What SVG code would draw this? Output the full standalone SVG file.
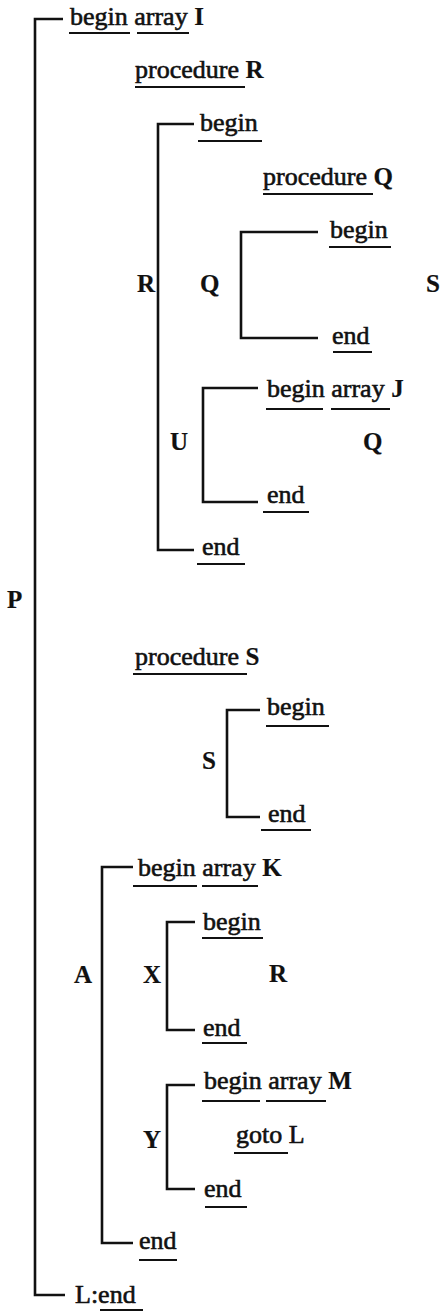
<svg xmlns="http://www.w3.org/2000/svg" width="441" height="1312" viewBox="0 0 441 1312">
<style>
text{font-family:"Liberation Serif","Times New Roman",serif;font-size:26px;fill:#111;stroke:#111;stroke-width:0.6}
.b{font-weight:bold;font-size:25px;stroke-width:0.2}
.ul{stroke:#111;stroke-width:2.2}
.br{fill:none;stroke:#111;stroke-width:2.6;stroke-linejoin:miter}
</style>
<rect width="441" height="1312" fill="#fff"/>
<g id="connectors">
<path class="br" d="M63,19 H35 V1295 H65"/>
<path class="br" d="M194,124 H158 V550 H194"/>
<path class="br" d="M318,232 H241 V338 H318"/>
<path class="br" d="M258,388 H203 V502 H258"/>
<path class="br" d="M260,710 H227 V817 H260"/>
<path class="br" d="M133,867 H102 V1243 H133"/>
<path class="br" d="M195,922 H167 V1030 H195"/>
<path class="br" d="M195,1085 H167 V1189 H195"/>
</g>
<g id="P">
<text class="b" x="7" y="608">P</text>
<text x="70" y="25">begin array <tspan class="b">I</tspan></text>
<line class="ul" x1="69" y1="33" x2="130" y2="33"/>
<line class="ul" x1="137" y1="33" x2="189" y2="33"/>
<text x="75" y="1303">L:end</text>
<line class="ul" x1="100" y1="1310" x2="143" y2="1310"/>
</g>
<g id="procR">
<text x="135" y="78">procedure <tspan class="b">R</tspan></text>
<line class="ul" x1="135" y1="87" x2="245" y2="87"/>
</g>
<g id="R">
<text class="b" x="137" y="292">R</text>
<text x="200" y="131">begin</text>
<line class="ul" x1="198" y1="141" x2="262" y2="141"/>
<text x="202" y="555">end</text>
<line class="ul" x1="197" y1="564" x2="245" y2="564"/>
</g>
<g id="procQ">
<text x="263" y="185">procedure <tspan class="b">Q</tspan></text>
<line class="ul" x1="263" y1="194" x2="373" y2="194"/>
</g>
<g id="Q">
<text class="b" x="200" y="292">Q</text>
<text x="330" y="238">begin</text>
<line class="ul" x1="329" y1="247" x2="391" y2="247"/>
<text x="332" y="344">end</text>
<line class="ul" x1="333" y1="352" x2="372" y2="352"/>
</g>
<g id="Slabel">
<text class="b" x="426" y="292">S</text>
</g>
<g id="U">
<text class="b" x="170" y="450">U</text>
<text x="267" y="397">begin array <tspan class="b">J</tspan></text>
<line class="ul" x1="266" y1="409" x2="323" y2="409"/>
<line class="ul" x1="331" y1="409" x2="390" y2="409"/>
<text class="b" x="363" y="450">Q</text>
<text x="267" y="503">end</text>
<line class="ul" x1="263" y1="512" x2="309" y2="512"/>
</g>
<g id="procS">
<text x="135" y="665">procedure <tspan class="b">S</tspan></text>
<line class="ul" x1="133" y1="674" x2="247" y2="674"/>
</g>
<g id="S">
<text class="b" x="202" y="769">S</text>
<text x="267" y="715">begin</text>
<line class="ul" x1="266" y1="726" x2="329" y2="726"/>
<text x="268" y="822">end</text>
<line class="ul" x1="261" y1="830" x2="311" y2="830"/>
</g>
<g id="A">
<text class="b" x="74" y="983">A</text>
<text x="138" y="876">begin array <tspan class="b">K</tspan></text>
<line class="ul" x1="133" y1="886" x2="197" y2="886"/>
<line class="ul" x1="202" y1="886" x2="258" y2="886"/>
<text x="139" y="1249">end</text>
<line class="ul" x1="139" y1="1260" x2="177" y2="1260"/>
</g>
<g id="X">
<text class="b" x="143" y="983">X</text>
<text x="203" y="930">begin</text>
<line class="ul" x1="202" y1="938" x2="263" y2="938"/>
<text class="b" x="269" y="982">R</text>
<text x="203" y="1036">end</text>
<line class="ul" x1="202" y1="1043" x2="247" y2="1043"/>
</g>
<g id="Y">
<text class="b" x="143" y="1148">Y</text>
<text x="204" y="1089">begin array <tspan class="b">M</tspan></text>
<line class="ul" x1="202" y1="1101" x2="260" y2="1101"/>
<line class="ul" x1="266" y1="1101" x2="326" y2="1101"/>
<text x="236" y="1143">goto L</text>
<line class="ul" x1="234" y1="1153" x2="288" y2="1153"/>
<text x="204" y="1197">end</text>
<line class="ul" x1="205" y1="1207" x2="247" y2="1207"/>
</g>
</svg>
